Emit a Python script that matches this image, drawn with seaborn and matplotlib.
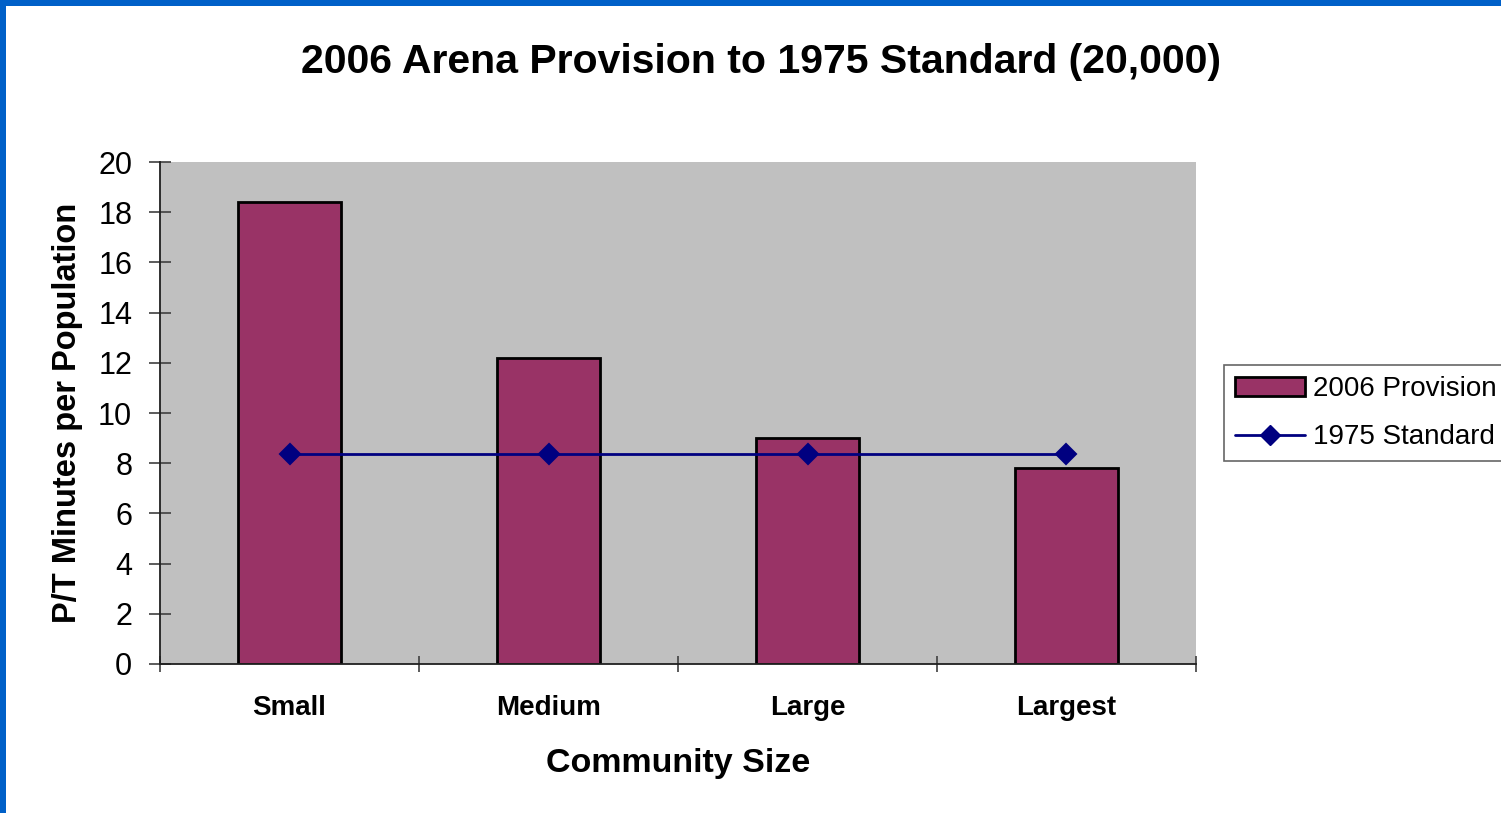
import pandas as pd
import seaborn as sns
import matplotlib.pyplot as plt
from matplotlib.patches import Patch, Rectangle
from matplotlib.lines import Line2D

# chart values
sizes = ['Small', 'Medium', 'Large', 'Largest']
provision_2006 = [18.4, 12.2, 9.0, 7.8]
standard_1975 = [8.35, 8.35, 8.35, 8.35]

df = pd.DataFrame({'size': sizes, 'provision': provision_2006, 'standard': standard_1975})

sns.set_style('white')
plt.rcParams['font.family'] = ['Liberation Sans', 'DejaVu Sans']
plt.rcParams['text.color'] = 'black'
plt.rcParams['axes.labelcolor'] = 'black'

fig = plt.figure(figsize=(15.01, 8.13), dpi=100)
ax = fig.add_axes([0.1066, 0.1833, 0.6902, 0.6174])
ax.set_facecolor('#C0C0C0')

sns.barplot(data=df, x='size', y='provision', color='#993366', width=0.4,
            edgecolor='black', linewidth=2, saturation=1, ax=ax)
sns.pointplot(data=df, x='size', y='standard', color='#000080', markers='D',
              markersize=10, linewidth=2, ax=ax)

ax.set_ylim(0, 20)
ax.set_xlim(-0.5, 3.5)
ax.set_yticks(range(0, 21, 2))
ax.tick_params(axis='y', labelsize=22, direction='inout', length=16, width=1.2,
               color='#404040', labelcolor='black', left=True, pad=12)
ax.set_xticks([-0.5, 0.5, 1.5, 2.5, 3.5], minor=True)
ax.tick_params(axis='x', which='minor', direction='inout', length=12, width=1.2,
               color='#404040', bottom=True)
ax.tick_params(axis='x', which='major', length=0, pad=22, labelcolor='black')
for lab in ax.get_xticklabels():
    lab.set_fontsize(20)
    lab.set_fontweight('bold')

for s in ['top', 'right']:
    ax.spines[s].set_visible(False)
for s in ['left', 'bottom']:
    ax.spines[s].set_color('#202020')
    ax.spines[s].set_linewidth(1.3)

ax.set_xlabel('Community Size', fontsize=24.5, fontweight='bold', labelpad=20)
ax.set_ylabel('P/T Minutes per Population', fontsize=23.5, fontweight='bold', labelpad=11)
fig.text(0.507, 0.924, '2006 Arena Provision to 1975 Standard (20,000)',
         ha='center', va='center', fontsize=29.5, fontweight='bold')

handles = [Patch(facecolor='#993366', edgecolor='black', linewidth=2),
           Line2D([], [], color='#000080', marker='D', markersize=10, linewidth=2)]
leg = fig.legend(handles, ['2006 Provision', '1975 Standard'], loc='upper left',
                 bbox_to_anchor=(0.8155, 0.551), borderaxespad=0, fontsize=20,
                 frameon=True, fancybox=False, edgecolor='#404040',
                 handlelength=2.5, handletextpad=0.3, borderpad=0.4,
                 labelspacing=0.8)
leg.get_frame().set_linewidth(1.2)

# blue slide frame on the top and left edges
fig.patches.append(Rectangle((0, 0), 0.004, 1, transform=fig.transFigure,
                             facecolor='#0060C8', edgecolor='none', zorder=5))
fig.patches.append(Rectangle((0, 0.993), 1, 0.007, transform=fig.transFigure,
                             facecolor='#0060C8', edgecolor='none', zorder=5))

fig.savefig('out.png', dpi=100)
